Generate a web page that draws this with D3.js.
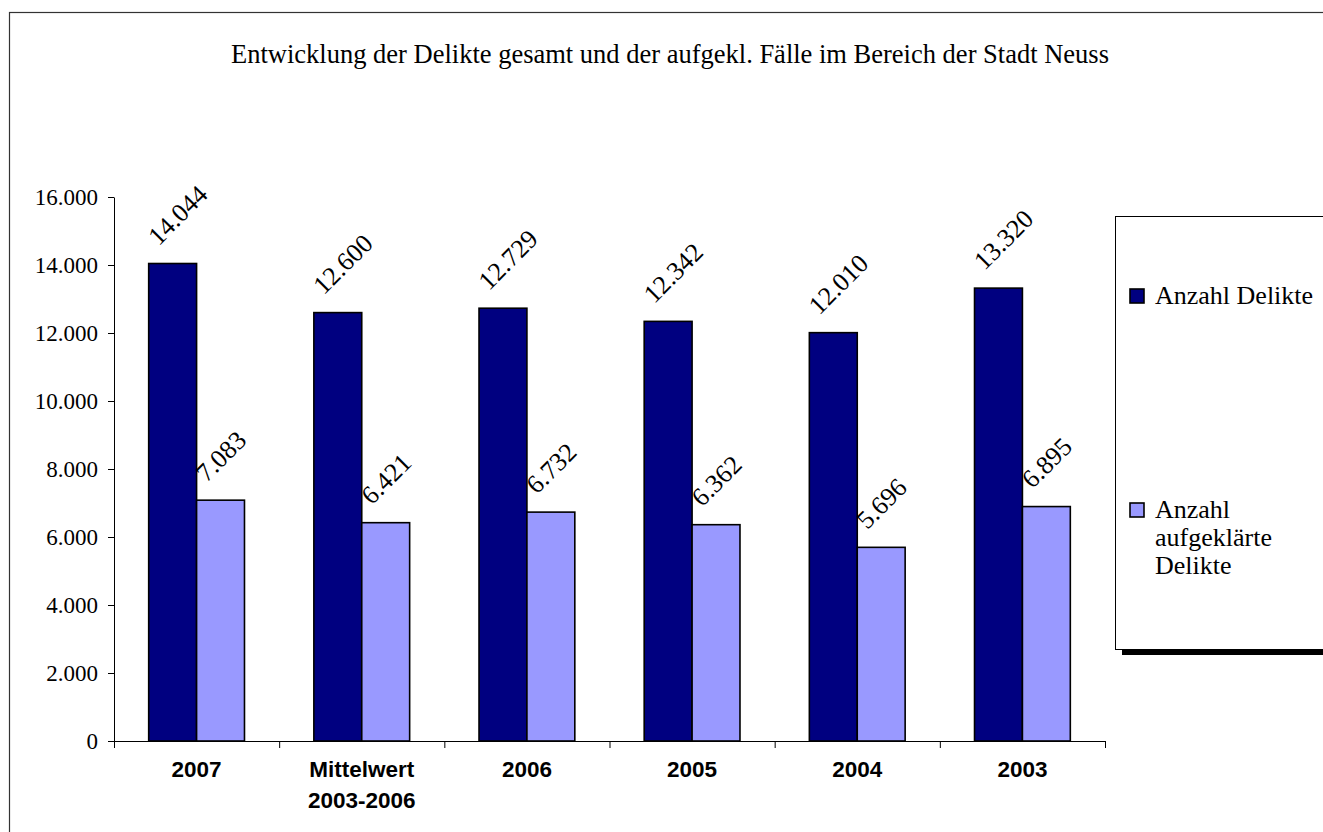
<!DOCTYPE html>
<html>
<head>
<meta charset="utf-8">
<script src="https://cdn.jsdelivr.net/npm/d3@7"></script>
<style>
  body { margin: 0; background: #fff; }
  svg { display: block; }
</style>
</head>
<body>
<svg id="drawing_region"></svg>
<script>
// Daten
const categories = [["2007"], ["Mittelwert", "2003-2006"], ["2006"], ["2005"], ["2004"], ["2003"]];
const seriesNames = ["Anzahl Delikte", "Anzahl aufgeklärte Delikte"];
const deliktes = [14044, 12600, 12729, 12342, 12010, 13320];
const aufgeklaert = [7083, 6421, 6732, 6362, 5696, 6895];
const yTicks = [0, 2000, 4000, 6000, 8000, 10000, 12000, 14000, 16000];
const colors = ["#000080", "#9999ff"];

const config = {
    width: 1323,
    height: 832,
    margin: {top: 197, right: 218, bottom: 91, left: 114},
};

const serif = '"Liberation Serif", "Times New Roman", serif';
const de = d3.formatLocale({decimal: ",", thousands: ".", grouping: [3], currency: ["", " €"]});
const fmt = de.format(",d");

const svg = d3.select('#drawing_region')
    .attr('width', config.width)
    .attr('height', config.height);

// äußerer Rahmen
svg.append('rect')
    .attr('x', 9.5).attr('y', 12.5)
    .attr('width', 1400).attr('height', 900)
    .attr('fill', 'none').attr('stroke', '#333').attr('stroke-width', 1.2);

svg.append('text')
    .attr('x', 670).attr('y', 63)
    .attr('text-anchor', 'middle')
    .style('font-family', serif)
    .style('font-size', '26.5px')
    .text('Entwicklung der Delikte gesamt und der aufgekl. Fälle im Bereich der Stadt Neuss');

const inner_width = config.width - config.margin.left - config.margin.right;
const inner_height = config.height - config.margin.top - config.margin.bottom;

const chart = svg.append('g')
    .attr('transform', `translate(${config.margin.left}, ${config.margin.top})`);

const data = categories.map((c, i) => ({label: c, values: [deliktes[i], aufgeklaert[i]]}));

// Skalen
const xscale = d3.scaleBand()
    .domain(d3.range(categories.length))
    .range([0, inner_width])
    .paddingInner(0.42)
    .paddingOuter(0.21);
const xsub = d3.scaleBand()
    .domain([0, 1])
    .range([0, xscale.bandwidth()]);
const yscale = d3.scaleLinear()
    .domain([0, 16000])
    .range([inner_height, 0]);

// y-Achse
const yaxis = d3.axisLeft(yscale)
    .tickValues(yTicks)
    .tickFormat(fmt)
    .tickSize(6)
    .tickSizeOuter(0)
    .tickPadding(10);
const yaxis_group = chart.append('g').call(yaxis);
yaxis_group.selectAll('text')
    .style('font-family', serif)
    .style('font-size', '23px')
    .attr('fill', '#000');
yaxis_group.selectAll('line, path').attr('stroke', '#000').attr('stroke-width', 1);

// x-Achse mit Teilstrichen zwischen den Kategorien
const xbound = d3.scaleLinear().domain([0, categories.length]).range([0, inner_width]);
const xaxis = d3.axisBottom(xbound)
    .tickValues(d3.range(categories.length + 1))
    .tickFormat('')
    .tickSize(7)
    .tickSizeOuter(0);
const xaxis_group = chart.append('g')
    .attr('transform', `translate(0, ${inner_height})`)
    .call(xaxis);
xaxis_group.selectAll('line, path').attr('stroke', '#000').attr('stroke-width', 1);

// Kategorienbeschriftung
const catLabels = chart.append('g').selectAll('text').data(data).enter()
    .append('text')
    .attr('x', (d, i) => xscale(i) + xscale.bandwidth() / 2)
    .attr('y', inner_height + 36)
    .attr('text-anchor', 'middle')
    .style('font-family', '"Liberation Sans", Arial, sans-serif')
    .style('font-weight', 'bold')
    .style('font-size', '22.5px');
catLabels.selectAll('tspan').data(d => d.label).enter()
    .append('tspan')
    .attr('x', function() { return this.parentNode.getAttribute('x'); })
    .attr('dy', (d, i) => i === 0 ? 0 : 31)
    .text(d => d);

// Balken
const groups = chart.selectAll('.grp').data(data).enter()
    .append('g')
    .attr('class', 'grp')
    .attr('transform', (d, i) => `translate(${xscale(i)}, 0)`);

groups.selectAll('rect').data(d => d.values).enter()
    .append('rect')
    .attr('x', (d, j) => xsub(j))
    .attr('y', d => yscale(d))
    .attr('width', xsub.bandwidth())
    .attr('height', d => inner_height - yscale(d))
    .attr('fill', (d, j) => colors[j])
    .attr('stroke', '#000')
    .attr('stroke-width', 1.6);

// Werte, um 45° gedreht
groups.selectAll('text.val').data(d => d.values).enter()
    .append('text')
    .attr('class', 'val')
    .attr('transform', (d, j) => {
        const sx = xsub(j) + xsub.bandwidth() / 2 - 14;
        const sy = yscale(d) - 17;
        return `translate(${sx}, ${sy}) rotate(-45)`;
    })
    .style('font-family', serif)
    .style('font-size', '26px')
    .text(d => fmt(d));

// Legende
const legend = svg.append('g');
legend.append('rect')
    .attr('x', 1122).attr('y', 223)
    .attr('width', 300).attr('height', 432)
    .attr('fill', '#000');
legend.append('rect')
    .attr('x', 1115.5).attr('y', 216.5)
    .attr('width', 300).attr('height', 433)
    .attr('fill', '#fff').attr('stroke', '#000').attr('stroke-width', 1);

const legendLines = [["Anzahl Delikte"], ["Anzahl", "aufgeklärte", "Delikte"]];
const legendY = [296, 510];
const items = legend.selectAll('.item').data(seriesNames).enter()
    .append('g')
    .attr('class', 'item')
    .attr('transform', (d, i) => `translate(1130, ${legendY[i]})`);
items.append('rect')
    .attr('x', 0).attr('y', -7)
    .attr('width', 14).attr('height', 14)
    .attr('fill', (d, i) => colors[i])
    .attr('stroke', '#000').attr('stroke-width', 1.6);
const ltext = items.append('text')
    .attr('x', 25).attr('y', 8)
    .style('font-family', serif)
    .style('font-size', '26px');
ltext.selectAll('tspan').data((d, i) => legendLines[i]).enter()
    .append('tspan')
    .attr('x', 25)
    .attr('dy', (d, i) => i === 0 ? 0 : 28)
    .text(d => d);
</script>
</body>
</html>
